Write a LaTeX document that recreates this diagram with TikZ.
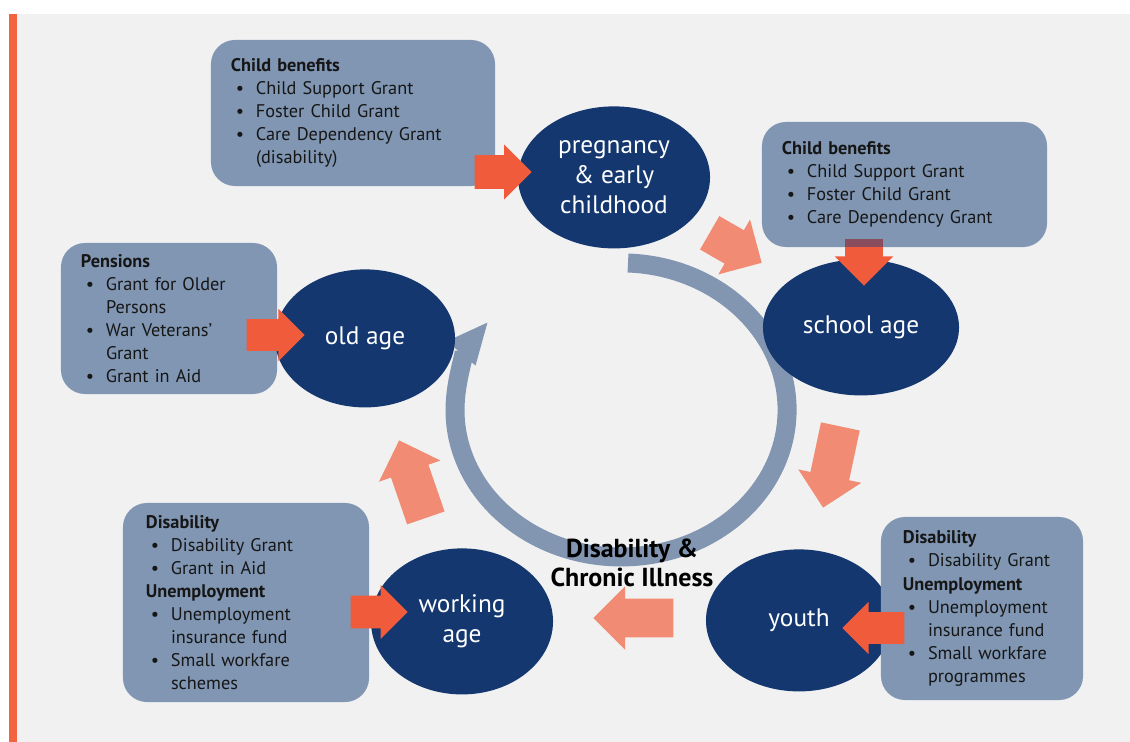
\documentclass[tikz,border=0pt]{standalone}
\usepackage{fontspec}
\setmainfont{PT Sans}
\usetikzlibrary{shapes.geometric, shapes.arrows, arrows.meta}

\definecolor{navy}{RGB}{20,55,112}
\definecolor{slate}{RGB}{128,150,178}
\definecolor{ringblue}{RGB}{130,149,177}
\definecolor{hotorange}{RGB}{240,91,59}
\definecolor{salmon}{RGB}{242,139,115}
\definecolor{panelgray}{RGB}{241,241,241}
\definecolor{barorange}{RGB}{242,99,66}
\definecolor{mauve}{RGB}{138,77,94}
\definecolor{boxtext}{RGB}{22,22,22}

% bullet and hanging indent for the grant lists
\newcommand{\itm}{\hspace*{3.5pt}\makebox[14.3pt][l]{\textbullet}}
\newcommand{\cnt}{\hspace*{17.8pt}}

\begin{document}
\begin{tikzpicture}[x = 0.025cm, y = -0.025cm,
                    stage/.style = {ellipse, fill = navy, text = white, inner sep = 0pt, align = center,
                                    yshift = -0.06cm, font = \fontsize{18}{21.3}\selectfont},
                    infobox/.style = {rectangle, rounded corners = 0.6cm, fill = slate, text = boxtext,
                                      inner xsep = 0.5cm, inner ysep = 0pt, align = left,
                                      font = \fontsize{13}{16.4}\selectfont},
                    hot/.style = {single arrow, fill = hotorange, inner xsep = 0pt, anchor = tip,
                                  single arrow head extend = 0.26cm},
                    soft/.style = {single arrow, fill = salmon, inner xsep = 0pt, anchor = tip,
                                   single arrow head extend = 0.31cm},
                    ring/.style = {draw = ringblue, line width = 0.475cm}]

\useasboundingbox (0,0) rectangle (1130,742);
\fill[white] (0,0) rectangle (1130,742);
\fill[panelgray] (17,14) rectangle (1130,742);
\fill[barorange] (9,14) rectangle (17,742);

% cycle ring
\draw[ring, -{Triangle[width = 0.85cm, length = 1.05cm]}]
     (628,263) arc[start angle = 87.6, end angle = -217, x radius = 4.15cm, y radius = 3.675cm];

% arrows between the stages
\node[soft, inner ysep = 0.475cm, minimum height = 1.5cm, minimum width = 1.525cm, rotate = -30] (c1) at (762,263) {};
\node[soft, inner ysep = 0.4875cm, minimum height = 2.075cm, minimum width = 1.575cm, rotate = -102] (c2) at (823,508) {};
\node[soft, inner ysep = 0.475cm, minimum height = 2.0cm, minimum width = 1.575cm, rotate = 180] (c3) at (593,618) {};
\node[soft, inner ysep = 0.475cm, minimum height = 2.05cm, minimum width = 1.625cm, rotate = 109] (c4) at (399,440) {};

% benefit boxes
\node[infobox, text width = 6.1cm, minimum height = 3.65cm] (benPreg) at (353,113)
  {\textbf{Child benefits}\\ \itm Child Support Grant\\ \itm Foster Child Grant\\
   \itm Care Dependency Grant\\ \cnt (disability)};
\node[infobox, text width = 6.125cm, minimum height = 3.125cm] (benSchool) at (904.5,184.5)
  {\textbf{Child benefits}\\ \itm Child Support Grant\\ \itm Foster Child Grant\\
   \itm Care Dependency Grant};
\node[infobox, text width = 4.4cm, minimum height = 3.775cm] (benOld) at (169,318.5)
  {\textbf{Pensions}\\ \itm Grant for Older\\ \cnt Persons\\ \itm War Veterans’\\
   \cnt Grant\\ \itm Grant in Aid};
\node[infobox, inner xsep = 0.575cm, text width = 5.0cm, minimum height = 4.975cm] (benWork) at (246,602.5)
  {\textbf{Disability}\\ \itm Disability Grant\\ \itm Grant in Aid\\ \textbf{Unemployment}\\
   \itm Unemployment\\ \cnt insurance fund\\ \itm Small workfare\\ \cnt schemes};

% life stages
\node[stage, minimum width = 4.8cm, minimum height = 3.55cm] (preg) at (614,175) {pregnancy\\ \& early\\ childhood};
\node[stage, minimum width = 4.9cm, minimum height = 3.4cm] (school) at (861,325) {school age};
\node[stage, minimum width = 4.5cm, minimum height = 3.45cm] (old) at (365,336) {old age};
\node[stage, minimum width = 4.55cm, minimum height = 3.65cm] (work) at (462,619) {working\\ age};
\node[stage, minimum width = 4.65cm, minimum height = 3.55cm] (youth) at (799,618) {youth};

\node[infobox, inner xsep = 0.55cm, text width = 3.95cm, minimum height = 4.575cm] (benYouth) at (982,608.5)
  {\textbf{Disability}\\ \itm Disability Grant\\ \textbf{Unemployment}\\ \itm Unemployment\\
   \cnt insurance fund\\ \itm Small workfare\\ \cnt programmes};

% benefits feeding each stage
\node[hot, inner ysep = 0.4125cm, minimum height = 1.425cm, minimum width = 1.375cm] (toPreg) at (532,172) {};
\node[hot, inner ysep = 0.4625cm, minimum height = 1.15cm, minimum width = 1.45cm, rotate = -90] (toSchool) at (864,286) {};
\fill[mauve] (toSchool.before tail) rectangle (toSchool.after tail |- benSchool.south);
\node[hot, inner ysep = 0.3875cm, minimum height = 1.45cm, minimum width = 1.25cm] (toOld) at (305,335) {};
\node[hot, inner ysep = 0.4cm, minimum height = 1.425cm, minimum width = 1.35cm] (toWork) at (408,612) {};
\node[hot, inner ysep = 0.3875cm, minimum height = 1.55cm, minimum width = 1.25cm, rotate = 180] (toYouth) at (842,628) {};

\node[align = center, font = \bfseries\fontsize{18.5}{20.6}\selectfont] (centre) at (632,562.5)
  {Disability \&\\ Chronic Illness};

\end{tikzpicture}
\end{document}
